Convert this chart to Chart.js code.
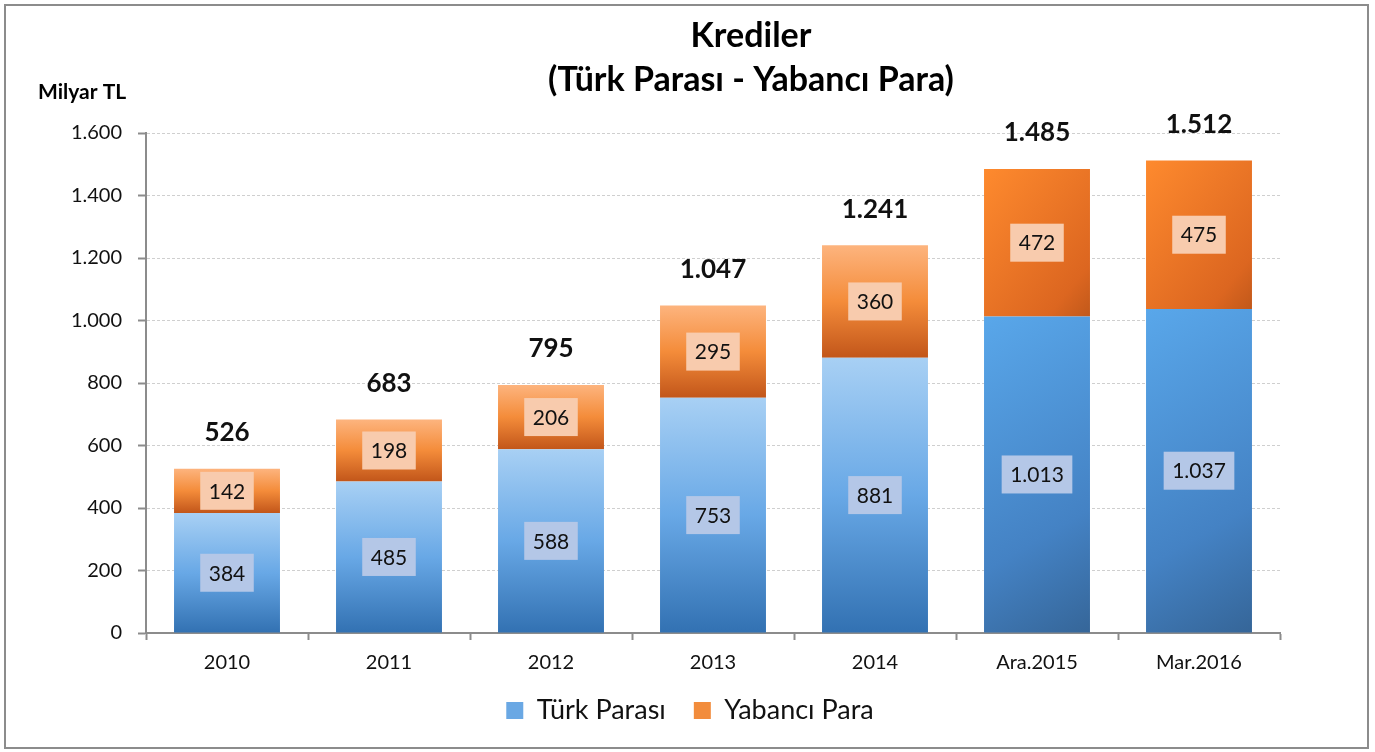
<!DOCTYPE html>
<html>
<head>
<meta charset="utf-8">
<script src="https://cdn.jsdelivr.net/npm/chart.js@4/dist/chart.umd.min.js"></script>
<style>
  html, body { margin: 0; padding: 0; background: #fff; }
  #wrap { width: 1375px; height: 752px; }
</style>
</head>
<body>
<div id="wrap"><canvas id="krediChart"></canvas></div>
<script>
const categories = ['2010', '2011', '2012', '2013', '2014', 'Ara.2015', 'Mar.2016'];
const turkParasi = [384, 485, 588, 753, 881, 1013, 1037];
const yabanciPara = [142, 198, 206, 295, 360, 472, 475];
const totals = [526, 683, 795, 1047, 1241, 1485, 1512];
const yTicks = [0, 200, 400, 600, 800, 1000, 1200, 1400, 1600];

const barPct = 0.654;
const fontFamily = 'Lato, "Open Sans", sans-serif';

function fmt(v) {
    return v.toLocaleString('de-DE');
}

// gradient for one bar segment, built from the scales
function segmentFill(context, blue) {
    const chart = context.chart;
    const area = chart.chartArea;
    const i = context.dataIndex;
    if (!area || i === undefined) {
        return blue ? '#5b9bd5' : '#ed7d31';
    }
    const x = chart.scales.x;
    const y = chart.scales.y;
    const half = (area.width / categories.length) * barPct / 2;
    const cx = x.getPixelForValue(i);
    const start = blue ? 0 : turkParasi[i];
    const end = blue ? turkParasi[i] : turkParasi[i] + yabanciPara[i];
    const top = y.getPixelForValue(end);
    const bottom = y.getPixelForValue(start);
    const ctx = chart.ctx;
    let g;
    if (i < 5) {
        g = ctx.createLinearGradient(0, top, 0, bottom);
        if (blue) {
            g.addColorStop(0, '#a8d0f4');
            g.addColorStop(0.5, '#68a8e6');
            g.addColorStop(1, '#3271b2');
        } else {
            g.addColorStop(0, '#fdb47e');
            g.addColorStop(0.5, '#f48c3a');
            g.addColorStop(1, '#c2561a');
        }
    } else {
        g = ctx.createLinearGradient(cx - half, top, cx + half * 2.5, bottom);
        if (blue) {
            g.addColorStop(0, '#59a7ea');
            g.addColorStop(0.6, '#4482c4');
            g.addColorStop(1, '#305b88');
        } else {
            g.addColorStop(0, '#fe8a2e');
            g.addColorStop(0.6, '#dc6620');
            g.addColorStop(1, '#8e3e10');
        }
    }
    return g;
}

const frameAndText = {
    id: 'frameAndText',
    afterLayout(chart) {
        // legend sits a bit right of the page centre in the original
        chart.legend.left += 50;
        chart.legend.right += 50;
    },
    beforeDraw(chart) {
        const ctx = chart.ctx;
        ctx.save();
        ctx.strokeStyle = '#8c8c8c';
        ctx.lineWidth = 2;
        ctx.strokeRect(5, 5, 1363, 743);
        ctx.restore();
    },
    afterDraw(chart) {
        const ctx = chart.ctx;
        ctx.save();
        ctx.fillStyle = '#000';
        ctx.textAlign = 'center';
        ctx.textBaseline = 'middle';
        ctx.font = 'bold 34px ' + fontFamily;
        ctx.fillText('Krediler', 751, 36);
        ctx.fillText('(Türk Parası - Yabancı Para)', 751, 80);
        ctx.textAlign = 'left';
        ctx.font = 'bold 21px ' + fontFamily;
        ctx.fillText('Milyar TL', 38, 92);
        ctx.restore();
    }
};

const barLabels = {
    id: 'barLabels',
    afterDatasetsDraw(chart) {
        const ctx = chart.ctx;
        ctx.save();
        ctx.textAlign = 'center';
        ctx.textBaseline = 'middle';
        [0, 1].forEach(ds => {
            const meta = chart.getDatasetMeta(ds);
            const values = ds === 0 ? turkParasi : yabanciPara;
            meta.data.forEach((bar, i) => {
                const text = fmt(values[i]);
                ctx.font = '21px ' + fontFamily;
                const w = ctx.measureText(text).width + 17;
                const h = 38;
                const cy = (bar.y + bar.base) / 2;
                ctx.fillStyle = ds === 0 ? '#b4c7e7' : '#f8cbad';
                ctx.fillRect(bar.x - w / 2, cy - h / 2, w, h);
                ctx.fillStyle = '#111';
                ctx.fillText(text, bar.x, cy + 1);
            });
        });
        const top = chart.getDatasetMeta(1);
        ctx.font = 'bold 26px ' + fontFamily;
        ctx.fillStyle = '#111';
        top.data.forEach((bar, i) => {
            ctx.fillText(fmt(totals[i]), bar.x, bar.y - 36);
        });
        ctx.restore();
    }
};

const ctx = document.getElementById('krediChart').getContext('2d');
const chart = new Chart(ctx, {
    type: 'bar',
    data: {
        labels: categories,
        datasets: [{
            label: 'Türk Parası',
            data: turkParasi,
            backgroundColor: c => segmentFill(c, true),
            categoryPercentage: 1,
            barPercentage: barPct
        }, {
            label: 'Yabancı Para',
            data: yabanciPara,
            backgroundColor: c => segmentFill(c, false),
            categoryPercentage: 1,
            barPercentage: barPct
        }]
    },
    options: {
        responsive: true,
        maintainAspectRatio: false,
        animation: false,
        layout: {
            padding: { left: 0, right: 95, top: 133, bottom: 18 }
        },
        scales: {
            x: {
                stacked: true,
                offset: true,
                grid: {
                    offset: true,
                    drawOnChartArea: false,
                    drawTicks: true,
                    tickLength: 7,
                    tickColor: '#8c8c8c',
                    tickWidth: 2
                },
                border: { color: '#8c8c8c', width: 2 },
                ticks: {
                    color: '#111',
                    font: { family: fontFamily, size: 20 },
                    padding: 11
                },
                afterFit(scale) { scale.height = 36; }
            },
            y: {
                stacked: true,
                min: 0,
                max: 1600,
                afterBuildTicks(scale) {
                    scale.ticks = yTicks.map(v => ({ value: v }));
                },
                grid: {
                    color: '#cfcfcf',
                    lineWidth: 1,
                    tickLength: 8,
                    tickColor: '#8c8c8c',
                    tickWidth: 2
                },
                border: { color: '#8c8c8c', width: 2, dash: [3, 2] },
                ticks: {
                    color: '#111',
                    font: { family: fontFamily, size: 20 },
                    padding: 16,
                    callback: v => fmt(v)
                },
                afterFit(scale) { scale.width = 146; }
            }
        },
        plugins: {
            title: { display: false },
            tooltip: { enabled: false },
            legend: {
                position: 'bottom',
                labels: {
                    color: '#111',
                    font: { family: fontFamily, size: 27 },
                    boxWidth: 17,
                    boxHeight: 17,
                    padding: 28,
                    generateLabels(chart) {
                        const fills = ['#6aa8e4', '#f28c3c'];
                        return chart.data.datasets.map((d, i) => ({
                            text: d.label,
                            fillStyle: fills[i],
                            strokeStyle: fills[i],
                            lineWidth: 0,
                            fontColor: '#111',
                            datasetIndex: i,
                            hidden: false
                        }));
                    }
                }
            }
        }
    },
    plugins: [frameAndText, barLabels]
});
</script>
</body>
</html>
